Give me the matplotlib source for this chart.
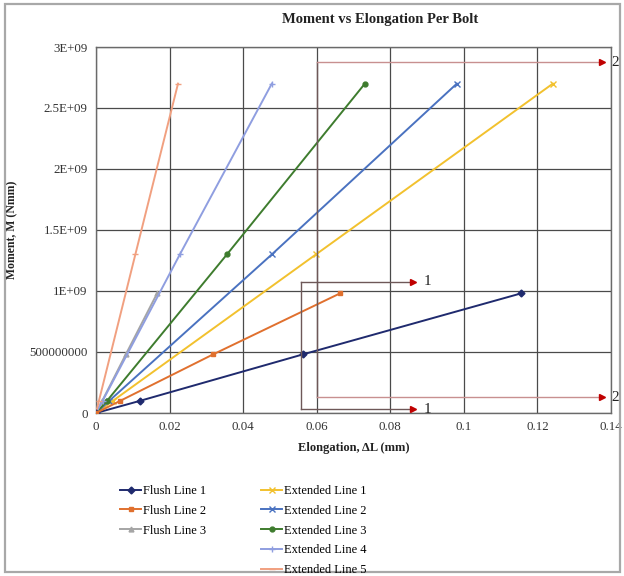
import matplotlib
matplotlib.use("Agg")
import matplotlib.pyplot as plt
from matplotlib.patches import Rectangle

plt.rcParams['font.family'] = ['Liberation Serif', 'DejaVu Serif']

# ---- data ----
flush_moment = [0, 1.0e8, 4.8e8, 9.8e8]
flush1_elong = [0, 0.0120, 0.0562, 0.1155]
flush2_elong = [0, 0.0066, 0.0318, 0.0663]
flush3_elong = [0, 0.0017, 0.0081, 0.0166]

ext_moment = [0, 1.0e8, 1.3e9, 2.7e9]
ext1_elong = [0, 0.0046, 0.0598, 0.1242]
ext2_elong = [0, 0.0036, 0.0478, 0.0981]
ext3_elong = [0, 0.0030, 0.0356, 0.0731]
ext4_elong = [0, 0.0018, 0.0228, 0.0478]
ext5_elong = [0, 0.0008, 0.0107, 0.0223]

flush_labels = ["Flush Line 1", "Flush Line 2", "Flush Line 3"]
ext_labels = ["Extended Line 1", "Extended Line 2", "Extended Line 3",
              "Extended Line 4", "Extended Line 5"]

x_ticks = [0, 0.02, 0.04, 0.06, 0.08, 0.1, 0.12, 0.14]
x_ticklabels = ["0", "0.02", "0.04", "0.06", "0.08", "0.1", "0.12", "0.14"]
y_ticks = [0, 5e8, 1e9, 1.5e9, 2e9, 2.5e9, 3e9]
y_ticklabels = ["0", "500000000", "1E+09", "1.5E+09", "2E+09", "2.5E+09", "3E+09"]

W, H = 624, 576
fig = plt.figure(figsize=(W / 100, H / 100), dpi=100)
ax = fig.add_axes([96 / W, 1 - 413 / H, (611 - 96) / W, (413 - 47) / H])

# outer chart border
fig.patches.append(Rectangle((5 / W, 4 / H), 615 / W, 568 / H, transform=fig.transFigure,
                             fill=False, edgecolor='#a8a8a8', linewidth=1.6))

flush_styles = [
    dict(color='#1f2a6e', marker='D', ms=3.5, zorder=4),
    dict(color='#e0702e', marker='s', ms=3.5, zorder=4),
    dict(color='#a5a5a5', marker='^', ms=3.5, zorder=2),
]
ext_styles = [
    dict(color='#f2c12e', marker='x', ms=4.5),
    dict(color='#4a72c0', marker='x', ms=4.5),
    dict(color='#3e7c2e', marker='o', ms=3.5),
    dict(color='#8f9ee0', marker='+', ms=5),
    dict(color='#f1a080', marker='_', ms=5),
]

flush_data = [flush1_elong, flush2_elong, flush3_elong]
ext_data = [ext1_elong, ext2_elong, ext3_elong, ext4_elong, ext5_elong]

flush_handles = []
for xs, st, lab in zip(flush_data, flush_styles, flush_labels):
    h, = ax.plot(xs, flush_moment, lw=1.4, label=lab, **st)
    flush_handles.append(h)
ext_handles = []
for xs, st, lab in zip(ext_data, ext_styles, ext_labels):
    h, = ax.plot(xs, ext_moment, lw=1.4, label=lab, zorder=3, **st)
    ext_handles.append(h)

ax.set_xlim(0, 0.14)
ax.set_ylim(0, 3e9)
ax.set_xticks(x_ticks)
ax.set_xticklabels(x_ticklabels)
ax.set_yticks(y_ticks)
ax.set_yticklabels(y_ticklabels)
ax.tick_params(axis='both', labelsize=9.3, length=0, pad=6, colors='#333333')
ax.grid(True, color='#4a4a4a', linewidth=0.9)
ax.set_axisbelow(True)
for s in ax.spines.values():
    s.set_color('#6a6a6a')
    s.set_linewidth(1.0)

# bracket annotations
bc = '#6e5858'
rc = '#c00000'
# bracket 1
ax.plot([0.0557, 0.0557], [0.03e9, 1.075e9], color=bc, lw=1.0, clip_on=False, zorder=5)
for yv in (1.075e9, 0.03e9):
    ax.plot([0.0557, 0.0858], [yv, yv], color=bc, lw=1.0, clip_on=False, zorder=5)
    ax.plot([0.0862], [yv], marker='>', color=rc, ms=4, clip_on=False, zorder=6)
    ax.text(0.0890, yv, '1', fontsize=11, va='center', ha='left', color='#222222')
# bracket 2
ax.plot([0.0600, 0.0600], [0.13e9, 2.875e9], color=bc, lw=1.0, clip_on=False, zorder=5)
for yv in (2.875e9, 0.13e9):
    ax.plot([0.0600, 0.1372], [yv, yv], color='#c89090', lw=1.0, clip_on=False, zorder=5)
    ax.plot([0.1376], [yv], marker='>', color=rc, ms=4, clip_on=False, zorder=6)
    ax.text(0.1402, yv, '2', fontsize=11, va='center', ha='left', color='#222222',
            clip_on=False)

fig.text(380 / W, 1 - 20 / H, 'Moment vs Elongation Per Bolt', fontsize=10.5,
         fontweight='bold', ha='center', va='center', color='#222222')
ax.set_xlabel('Elongation, ΔL (mm)', fontsize=9, fontweight='bold', labelpad=6,
              color='#222222')
ax.set_ylabel('Moment, M (Nmm)', fontsize=8.5, fontweight='bold', color='#222222')
ax.yaxis.set_label_coords((18 - 96) / (611 - 96), 0.5)

leg_kw = dict(loc='upper left', frameon=False, fontsize=9, handlelength=1.7,
              handletextpad=0.15, labelspacing=0.62, borderpad=0, borderaxespad=0)
fig.legend(handles=flush_handles, bbox_to_anchor=(120 / W, 1 - 485 / H), **leg_kw)
fig.legend(handles=ext_handles, bbox_to_anchor=(261 / W, 1 - 485 / H), **leg_kw)

fig.savefig('out.png', dpi=100)
